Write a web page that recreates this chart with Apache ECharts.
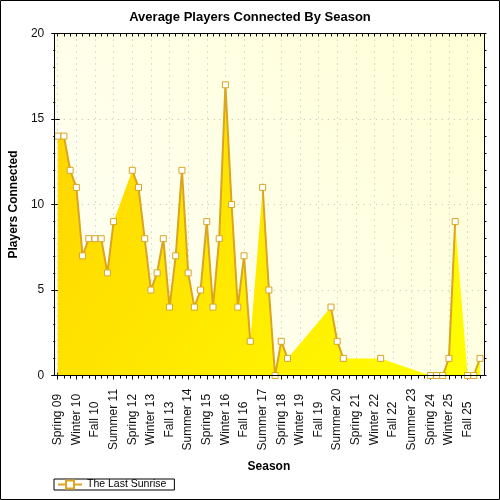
<!DOCTYPE html>
<html>
<head>
<meta charset="utf-8">
<script src="https://cdn.jsdelivr.net/npm/echarts@6/dist/echarts.min.js"></script>
<style>
html,body{margin:0;padding:0;background:#fff;}
#chart{width:500px;height:500px;}
</style>
</head>
<body>
<div id="chart"></div>
<script>
const chartTitle = 'Average Players Connected By Season';
const seriesName = 'The Last Sunrise';
const xAxisName = 'Season';
const yAxisName = 'Players Connected';

const categories = [
  'Spring 09','Summer 09','Fall 09',
  'Winter 10','Spring 10','Summer 10','Fall 10',
  'Winter 11','Spring 11','Summer 11','Fall 11',
  'Winter 12','Spring 12','Summer 12','Fall 12',
  'Winter 13','Spring 13','Summer 13','Fall 13',
  'Winter 14','Spring 14','Summer 14','Fall 14',
  'Winter 15','Spring 15','Summer 15','Fall 15',
  'Winter 16','Spring 16','Summer 16','Fall 16',
  'Winter 17','Spring 17','Summer 17','Fall 17',
  'Winter 18','Spring 18','Summer 18','Fall 18',
  'Winter 19','Spring 19','Summer 19','Fall 19',
  'Winter 20','Spring 20','Summer 20','Fall 20',
  'Winter 21','Spring 21','Summer 21','Fall 21',
  'Winter 22','Spring 22','Summer 22','Fall 22',
  'Winter 23','Spring 23','Summer 23','Fall 23',
  'Winter 24','Spring 24','Summer 24','Fall 24',
  'Winter 25','Spring 25','Summer 25','Fall 25',
  'Winter 26','Spring 26'
];

const players = [
  14, 14, 12,
  11, 7, 8, 8,
  8, 6, 9, null,
  null, 12, 11, 8,
  5, 6, 8, 4,
  7, 12, 6, 4,
  5, 9, 4, 8,
  17, 10, 4, 7,
  2, null, 11, 5,
  0, 2, 1, null,
  null, null, null, null,
  null, 4, 2, 1,
  null, null, null, null,
  null, 1, null, null,
  null, null, null, null,
  null, 0, 0, 0,
  1, 9, null, 0,
  0, 1
];

const yMin = 0, yMax = 20, yStep = 5;

const FONT = '"Liberation Sans", Arial, sans-serif';
const lineColor = '#DAA520';
const gridLine = { color: '#bdbdbd', width: 1, type: [1, 5] };

const chart = echarts.init(document.getElementById('chart'), null, { renderer: 'canvas' });

const hiddenX = {
  type: 'category', data: categories, boundaryGap: false, gridIndex: 0,
  axisLine: { show: false, onZero: false },
  axisLabel: { show: false }, splitLine: { show: false }
};
const baseY = {
  type: 'value', min: yMin, max: yMax, interval: yStep, gridIndex: 0,
  axisLine: { show: false, onZero: false }
};

const option = {
  animation: false,
  backgroundColor: '#ffffff',
  textStyle: { fontFamily: FONT },
  title: {
    text: chartTitle, left: 'center', top: 11, padding: 0,
    textStyle: { fontFamily: FONT, fontSize: 13, fontWeight: 'bold', color: '#000' }
  },
  legend: {
    left: 54, top: 479, orient: 'horizontal',
    padding: [0, 8, 0, 3],
    borderColor: '#000', borderWidth: 1,
    itemWidth: 24, itemHeight: 10, itemGap: 6,
    textStyle: { fontFamily: FONT, fontSize: 10.5, color: '#000', padding: [0, 0, 0, 0] },
    data: [seriesName]
  },
  grid: { left: 57, right: 20, top: 33.5, bottom: 124.5, containLabel: false },
  graphic: {
    elements: [
      {
        type: 'rect', silent: true, z: -10,
        shape: { x: 54.5, y: 33.5, width: 430, height: 342 },
        style: {
          fill: { type: 'linear', x: 0, y: 1, x2: 1, y2: 0,
            colorStops: [{ offset: 0, color: '#FFFFF6' }, { offset: 1, color: '#FFFFD6' }] }
        }
      },
      {
        type: 'rect', silent: true, z: 100,
        shape: { x: 54.5, y: 33.5, width: 430, height: 342 },
        style: { fill: 'none', stroke: '#000', lineWidth: 1 }
      },
      {
        type: 'rect', silent: true, z: 100,
        shape: { x: 0.5, y: 0.5, width: 499, height: 499 },
        style: { fill: 'none', stroke: '#000', lineWidth: 1 }
      }
    ]
  },
  xAxis: [
    {
      type: 'category', data: categories, boundaryGap: false, position: 'bottom', gridIndex: 0,
      axisLine: { show: false, onZero: false },
      axisTick: { show: true, interval: 2, length: 4, lineStyle: { color: '#000' } },
      axisLabel: {
        interval: 2, rotate: 90, align: 'center', verticalAlign: 'middle', margin: 44,
        fontFamily: FONT, fontSize: 12, color: '#111'
      },
      splitLine: { show: true, interval: 2, lineStyle: gridLine },
      name: xAxisName, nameLocation: 'middle', nameGap: 85,
      nameTextStyle: { fontFamily: FONT, fontSize: 12, fontWeight: 'bold', color: '#000' }
    },
    Object.assign({}, hiddenX, { position: 'bottom',
      axisTick: { show: true, interval: 0, length: 3, lineStyle: { color: '#000' } } }),
    Object.assign({}, hiddenX, { position: 'bottom',
      axisTick: { show: true, interval: 2, inside: true, length: 3, lineStyle: { color: '#000' } } }),
    Object.assign({}, hiddenX, { position: 'top',
      axisTick: { show: true, interval: 0, inside: true, length: 3, lineStyle: { color: '#000' } } })
  ],
  yAxis: [
    Object.assign({}, baseY, {
      position: 'left', offset: 2.5,
      axisTick: { show: true, length: 4, lineStyle: { color: '#000' } },
      minorTick: { show: true, splitNumber: 5, length: 2, lineStyle: { color: '#000' } },
      axisLabel: { margin: 11, fontFamily: FONT, fontSize: 12, color: '#111' },
      splitLine: { show: true, lineStyle: gridLine },
      name: yAxisName, nameLocation: 'middle', nameGap: 32,
      nameTextStyle: { fontFamily: FONT, fontSize: 12, fontWeight: 'bold', color: '#000' }
    }),
    Object.assign({}, baseY, {
      position: 'left', offset: 2.5,
      axisTick: { show: true, inside: true, length: 4.5, lineStyle: { color: '#000' } },
      axisLabel: { show: false }, splitLine: { show: false }
    }),
    Object.assign({}, baseY, {
      position: 'right', offset: 4.5,
      axisTick: { show: true, length: 2, lineStyle: { color: '#000' } },
      minorTick: { show: true, splitNumber: 5, length: 2, lineStyle: { color: '#000' } },
      axisLabel: { show: false }, splitLine: { show: false }
    })
  ],
  series: [
    {
      name: seriesName, type: 'line', data: players,
      xAxisIndex: 0, yAxisIndex: 0, z: 4,
      connectNulls: false, showAllSymbol: true,
      symbol: 'rect', symbolSize: 6,
      lineStyle: { color: lineColor, width: 2 },
      itemStyle: { color: '#ffffff', borderColor: lineColor, borderWidth: 1 }
    },
    {
      name: seriesName, type: 'line', data: players,
      xAxisIndex: 0, yAxisIndex: 0, z: 2,
      connectNulls: true, symbol: 'none', showSymbol: false,
      lineStyle: { width: 0, opacity: 0 },
      areaStyle: {
        opacity: 1,
        color: { type: 'linear', x: 0, y: 0, x2: 1, y2: 1,
          colorStops: [{ offset: 0, color: '#FFD400' }, { offset: 1, color: '#FFFF00' }] }
      }
    }
  ]
};

chart.setOption(option);
</script>
</body>
</html>
